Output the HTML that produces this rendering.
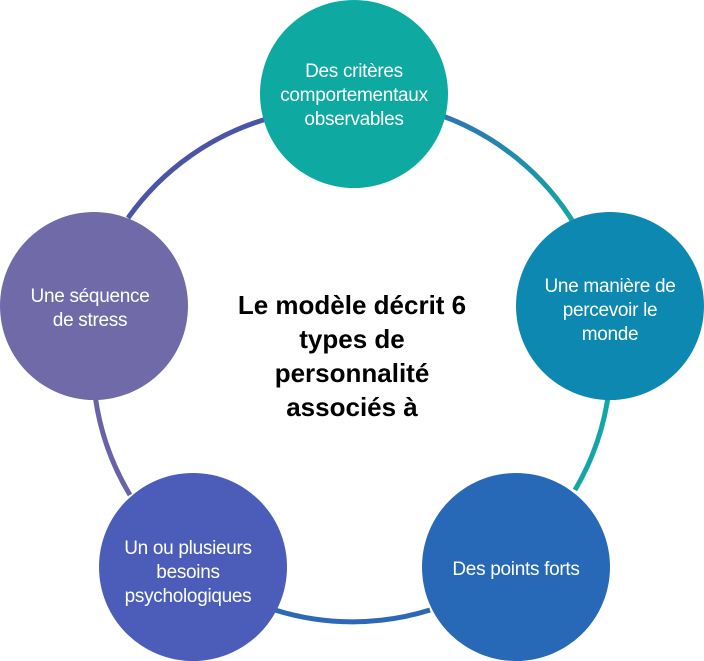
<!DOCTYPE html>
<html><head><meta charset="utf-8"><style>
html,body{margin:0;padding:0;background:#fff;width:704px;height:661px;overflow:hidden}
svg{display:block}
text{font-family:"Liberation Sans",sans-serif}
.n{fill:#fff;font-size:19px;text-anchor:middle;letter-spacing:-0.3px}
.c{fill:#000;font-size:26px;font-weight:bold;text-anchor:middle}
</style></head><body>
<svg width="704" height="661" viewBox="0 0 704 661">
<defs>
<linearGradient id="gtr" x1="0" y1="0" x2="1" y2="1">
<stop offset="0" stop-color="#2d74b4"/><stop offset="1" stop-color="#13a7a6"/>
</linearGradient>
</defs>
<g fill="none" stroke-width="5">
<path d="M128,218 A260,260 0 0 1 270,118" stroke="#4a55a8"/>
<path d="M440,115 A260,260 0 0 1 575,225" stroke="url(#gtr)"/>
<path d="M609,390 A260,260 0 0 1 575,490" stroke="#14a6a6"/>
<path d="M430,610 A260,260 0 0 1 275,610" stroke="#2c68b6"/>
<path d="M130,495 A260,260 0 0 1 95,395" stroke="#6a62a8"/>
</g>
<circle cx="354" cy="94" r="94" fill="#0eaaa1"/>
<circle cx="610" cy="306" r="94" fill="#0d88b0"/>
<circle cx="516" cy="567" r="94" fill="#2769b6"/>
<circle cx="193" cy="567" r="94" fill="#4b5db8"/>
<circle cx="94" cy="306" r="94" fill="#706aa8"/>
<text class="n" x="354" y="77">Des critères</text>
<text class="n" x="354" y="101">comportementaux</text>
<text class="n" x="354" y="125">observables</text>
<text class="n" x="610" y="292">Une manière de</text>
<text class="n" x="610" y="316">percevoir le</text>
<text class="n" x="610" y="340">monde</text>
<text class="n" x="516" y="575">Des points forts</text>
<text class="n" x="188" y="554">Un ou plusieurs</text>
<text class="n" x="188" y="578">besoins</text>
<text class="n" x="188" y="602">psychologiques</text>
<text class="n" x="90" y="302">Une séquence</text>
<text class="n" x="90" y="326">de stress</text>
<text class="c" x="352" y="314">Le modèle décrit 6</text>
<text class="c" x="352" y="348">types de</text>
<text class="c" x="352" y="382">personnalité</text>
<text class="c" x="352" y="416">associés à</text>
</svg>
</body></html>
